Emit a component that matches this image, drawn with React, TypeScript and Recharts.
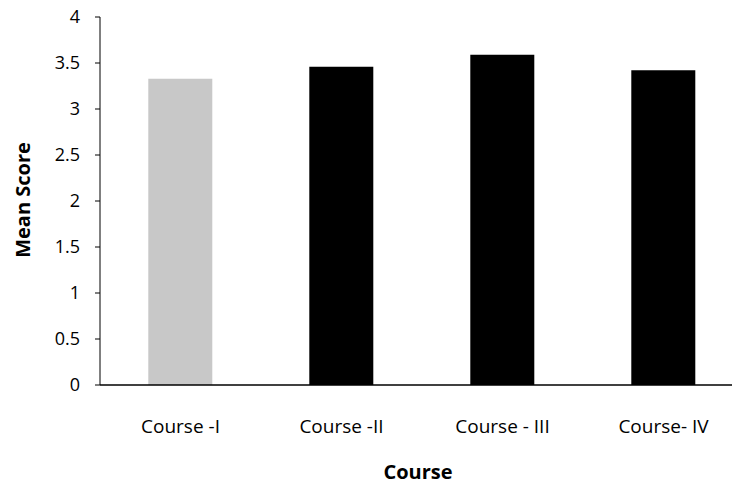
import React from 'react';
import { BarChart, Bar, XAxis, YAxis, Cell } from 'recharts';

const courses = ['Course -I', 'Course -II', 'Course - III', 'Course- IV'];
const meanScores = [3.33, 3.46, 3.59, 3.42];
const barColors = ['#c8c8c8', '#000000', '#000000', '#000000'];
const yTicks = [0, 0.5, 1, 1.5, 2, 2.5, 3, 3.5, 4];

const data = courses.map((c, i) => ({ course: c, score: meanScores[i] }));

const FONT = '"Open Sans", "Liberation Sans", sans-serif';

export default function App() {
  return (
    <div style={{ position: 'fixed', left: 0, top: 0, width: 732, height: 484, overflow: 'hidden', background: '#fff' }}>
      <BarChart
        width={760}
        height={484}
        data={data}
        margin={{ top: 17, right: 16, left: 0, bottom: 0 }}
        barCategoryGap="30%"
      >
        <XAxis
          dataKey="course"
          height={99}
          axisLine={{ stroke: '#000', strokeWidth: 1.5 }}
          tickLine={false}
          tickMargin={29}
          tick={{ fill: '#000', fontSize: 19, fontFamily: FONT }}
          label={{ value: 'Course', position: 'insideBottom', offset: 5, fill: '#000', fontSize: 20, fontWeight: 'bold', fontFamily: FONT, dx: -4 }}
        />
        <YAxis
          width={100}
          domain={[0, 4]}
          ticks={yTicks}
          interval={0}
          axisLine={{ stroke: '#000', strokeWidth: 1 }}
          tickLine={{ stroke: '#000' }}
          tickSize={5}
          tickMargin={15}
          tick={{ fill: '#000', fontSize: 18, fontFamily: FONT }}
          label={(props: any) => (
            <text
              x={22}
              y={200}
              transform="rotate(-90 22 200)"
              textAnchor="middle"
              dominantBaseline="central"
              fill="#000"
              fontSize={20}
              fontWeight="bold"
              fontFamily={FONT}
            >
              Mean Score
            </text>
          )}
        />
        <Bar dataKey="score" isAnimationActive={false}>
          {data.map((d, i) => (
            <Cell key={d.course} fill={barColors[i]} />
          ))}
        </Bar>
      </BarChart>
    </div>
  );
}
